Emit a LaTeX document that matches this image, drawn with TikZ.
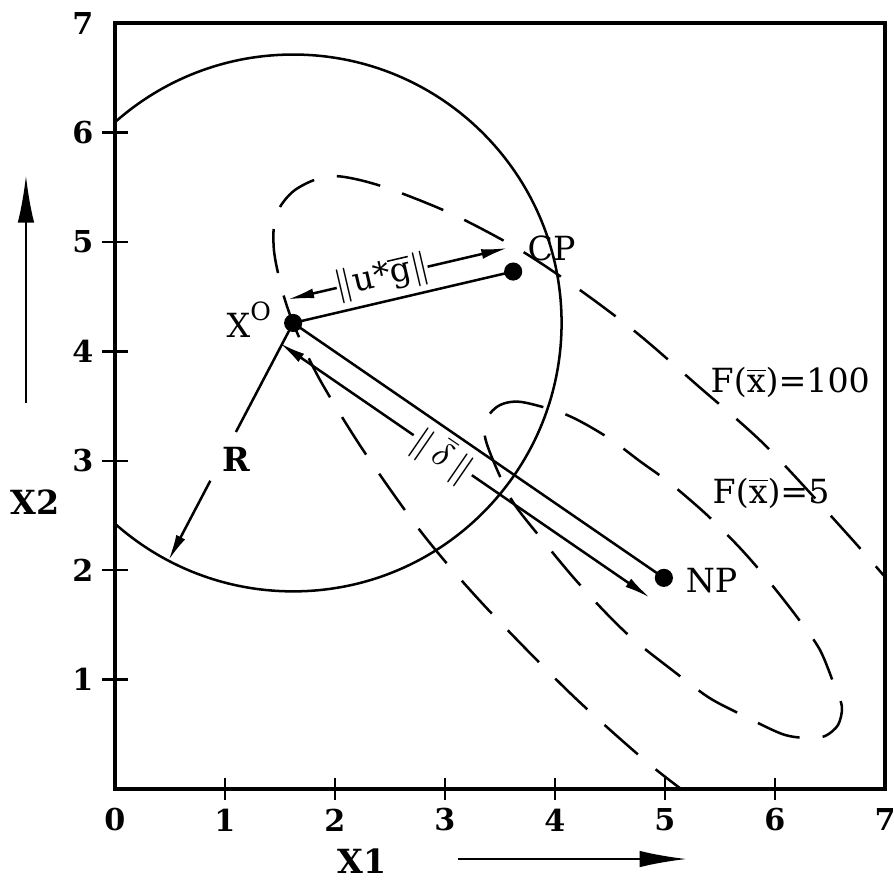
\documentclass[tikz,border=0pt]{standalone}
\usepackage{fontspec}
\setmainfont{DejaVu Serif}
\usetikzlibrary{calc,arrows.meta}

\begin{document}
\begin{tikzpicture}[x=1cm,y=0.9945cm,
  thinline/.style={line width=0.65pt},
  contourline/.style={line width=0.65pt, dash pattern=on 11.5pt off 6pt},
  dimarrow/.style={line width=0.65pt, -{Latex[length=2.4mm,width=0.9mm]}},
  axisarrow/.style={line width=0.65pt, -{Latex[length=4.3mm,width=1.5mm]}},
  lab/.style={font=\fontsize{8.6}{10}\selectfont, inner sep=0pt},
  blab/.style={font=\fontsize{8.6}{10}\selectfont\bfseries, inner sep=0pt},
  ticklab/.style={font=\fontsize{7.8}{9}\selectfont\bfseries, inner sep=0pt},
  ptdot/.style={circle, fill=black, inner sep=0pt, minimum size=0.165cm}
]
\useasboundingbox (-1.045,-0.832) rectangle (7.082,7.212);

% frame and ticks
\draw[line width=0.9pt] (0,0) rectangle (7,7);
\foreach \i in {1,...,6}{
  \draw[thinline] (-0.12,\i) -- (0.12,\i);
  \draw[thinline] (\i,-0.1) -- (\i,0.1);
}
\foreach \i in {1,...,7}{
  \node[ticklab, anchor=east] (yl\i) at (-0.19,\i) {\i};
}
\foreach \i in {0,...,7}{
  \node[ticklab] (xl\i) at (\i,-0.283) {\i};
}

% points
\coordinate (X0) at (1.62,4.26);
\coordinate (CP) at (3.62,4.73);
\coordinate (NP) at (4.99,1.93);

% circle and contours, clipped to the frame
\begin{scope}
\clip (0,0) rectangle (7,7);
\draw[thinline] (X0) circle[radius=2.44cm];
\draw[contourline] plot[smooth] coordinates {
 (7.18,1.728) (6.682,2.303) (5.927,3.126) (5.291,3.693) (4.745,4.168)
 (4.227,4.561) (3.682,4.927) (3.045,5.265) (2.391,5.521) (1.955,5.603)
 (1.636,5.475) (1.464,5.247) (1.445,4.927) (1.527,4.534) (1.645,4.196)
 (1.864,3.739) (2.255,3.099) (2.791,2.340) (3.336,1.700) (4.136,0.878)
 (4.845,0.238) (5.318,-0.128)};
\draw[contourline] plot[smooth cycle] coordinates {
 (3.382,3.391) (3.500,3.510) (3.700,3.537) (4.109,3.419) (4.473,3.218)
 (4.782,2.989) (5.045,2.797) (5.382,2.505) (5.682,2.203) (5.936,1.910)
 (6.200,1.572) (6.409,1.271) (6.545,0.932) (6.609,0.750) (6.573,0.585)
 (6.455,0.484) (6.300,0.466) (6.064,0.503) (5.664,0.695) (5.391,0.841)
 (5.064,1.088) (4.718,1.362) (4.455,1.618) (4.164,1.938) (3.864,2.303)
 (3.618,2.623) (3.455,2.962) (3.364,3.218)};
\end{scope}

% steps
\draw[thinline] (X0) -- (CP);
\draw[thinline] (X0) -- (NP);

% dimension line ||u*g||
\coordinate (ugA) at ($(X0)!0.22cm!90:(CP)$);
\coordinate (ugB) at ($(CP)!0.22cm!-90:(X0)$);
\coordinate (ugA1) at ($(ugA)!0.223!(ugB)$);
\coordinate (ugB1) at ($(ugA)!0.636!(ugB)$);
\draw[dimarrow] (ugA1) -- (ugA);
\draw[dimarrow] (ugB1) -- (ugB);
\path (ugA1) -- node[lab, sloped] (uglab) {\(\|\)u*\(\overline{\mbox{g}}\)\(\|\)} (ugB1);

% dimension line ||delta||
\coordinate (dA) at ($(X0)!0.22cm!-90:(NP)$);
\coordinate (dB) at ($(NP)!0.22cm!90:(X0)$);
\coordinate (dA1) at ($(dA)!0.362!(dB)$);
\coordinate (dB1) at ($(dA)!0.519!(dB)$);
\draw[dimarrow] (dA1) -- (dA);
\draw[dimarrow] (dB1) -- (dB);
\path (dA1) -- node[lab, sloped, yshift=-0.3pt] (dlab) {\(\|\,\bar{\delta}\,\|\)} (dB1);

% radius R
\coordinate (R1) at ($(X0)+(242.3:1.12cm)$);
\coordinate (R2) at ($(X0)+(242.3:1.62cm)$);
\coordinate (Rc) at ($(X0)+(242.3:2.44cm)$);
\draw[thinline] (X0) -- (R1);
\draw[dimarrow] (R2) -- (Rc);
\node[blab, anchor=base west] (Rlab) at (0.973,2.898) {R};

% dots
\node[ptdot] (dX0) at (X0) {};
\node[ptdot] (dCP) at (CP) {};
\node[ptdot] (dNP) at (NP) {};

% labels
\node[lab, anchor=base west] (X0lab) at (1.009,4.13) {X\raisebox{0.5em}{\fontsize{6.5}{7}\selectfont O}};
\node[lab, anchor=base west] (CPlab) at (3.745,4.835) {CP};
\node[lab, anchor=base west] (NPlab) at (5.182,1.80) {NP};
\node[lab, anchor=base west] (F100) at (5.409,3.62) {F(\(\overline{\mbox{x}}\))=100};
\node[lab, anchor=base west] (F5) at (5.427,2.614) {F(\(\overline{\mbox{x}}\))=5};

% axis arrows
\coordinate (x2a) at (-0.809,3.53);
\coordinate (x2b) at (-0.809,5.61);
\draw[axisarrow] (x2a) -- (x2b);
\node[blab, anchor=base west] (X2lab) at (-0.955,2.505) {X2};
\coordinate (x1a) at (3.118,-0.64);
\coordinate (x1b) at (5.2,-0.64);
\draw[axisarrow] (x1a) -- (x1b);
\node[blab, anchor=base west] (X1lab) at (2.018,-0.768) {X1};
\end{tikzpicture}
\end{document}
